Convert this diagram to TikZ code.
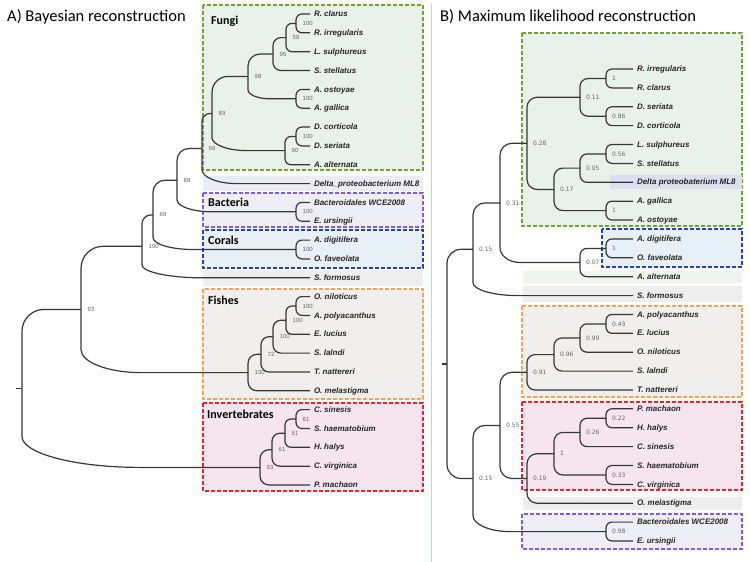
\documentclass[tikz,border=0pt]{standalone}
\usepackage{fontspec}
\setmainfont{Liberation Sans}
\newfontfamily\titlefont{Carlito}
\newfontfamily\suppfont{DejaVu Sans}
\usetikzlibrary{positioning}

\definecolor{fungiline}{RGB}{110,165,55}
\definecolor{fungifill}{RGB}{233,241,235}
\definecolor{bactline}{RGB}{125,90,250}
\definecolor{bactfill}{RGB}{238,238,248}
\definecolor{coralline}{RGB}{35,65,195}
\definecolor{coralfill}{RGB}{231,239,247}
\definecolor{fishline}{RGB}{247,163,90}
\definecolor{fishfill}{RGB}{240,239,237}
\definecolor{invline}{RGB}{238,35,45}
\definecolor{invfill}{RGB}{246,229,239}
\definecolor{grayband}{RGB}{238,238,238}
\definecolor{lavband}{RGB}{236,236,246}
\definecolor{lavbanddark}{RGB}{221,223,238}
\definecolor{greenband}{RGB}{237,245,237}
\definecolor{divider}{RGB}{190,208,225}
\definecolor{treeline}{RGB}{55,55,55}

\begin{document}
\begin{tikzpicture}[x=1pt, y=-1pt,
    leaf/.style={anchor=west, inner sep=2pt, outer sep=2pt, text height=5.8pt, text depth=0.5pt, font=\fontsize{8}{9}\selectfont\bfseries\itshape, text=black!85},
    supp/.style={anchor=west, inner sep=0pt, xshift=6.5pt, font=\fontsize{6}{7}\selectfont, text=black!60},
    suppb/.style={supp, xshift=-0.5pt, font=\suppfont\fontsize{6}{7}\selectfont},
    branch/.style={draw=treeline, line width=1.2pt, rounded corners=#1},
    branch/.default=6pt,
    lower/.style 2 args={sharp corners, to path={-- ([yshift=#1]\tikztostart |- \tikztotarget) .. controls ([yshift=0.45*#1]\tikztostart |- \tikztotarget) and ([xshift=0.45*#2]\tikztostart |- \tikztotarget) .. ([xshift=#2]\tikztostart |- \tikztotarget) -- (\tikztotarget)}},
    grp/.style={line width=1.2pt, dash pattern=on 4pt off 2pt},
    grplabel/.style={anchor=west, inner sep=0pt, font=\titlefont\fontsize{12}{14}\selectfont\bfseries},
    paneltitle/.style={anchor=west, inner sep=0pt, font=\titlefont\fontsize{16.5}{18}\selectfont}
]
\useasboundingbox (0,0) rectangle (750,562);

% panel titles and divider
\node[paneltitle] (titleA) at (7,17) {A) Bayesian reconstruction};
\node[paneltitle] (titleB) at (440,17) {B) Maximum likelihood reconstruction};
\draw[divider, line width=0.8pt] (431,3) -- (431,562);

% ---------- A) group boxes ----------
\draw[grp, draw=fungiline, fill=fungifill] (203,5) rectangle (423,170);
\fill[lavband] (203,176) rectangle (423,191);
\draw[grp, draw=bactline, fill=bactfill] (203,193) rectangle (423,227);
\draw[grp, draw=coralline, fill=coralfill] (203,230) rectangle (423,268);
\fill[grayband] (203,270) rectangle (423,286);
\draw[grp, draw=fishline, fill=fishfill] (203,289) rectangle (423,399);
\draw[grp, draw=invline, fill=invfill] (203,403) rectangle (423,491);

\node[grplabel] (gA-fungi) at (211,21) {Fungi};
\node[grplabel] (gA-bact) at (208,202) {Bacteria};
\node[grplabel] (gA-coral) at (208,240) {Corals};
\node[grplabel] (gA-fish) at (208,300) {Fishes};
\node[grplabel] (gA-inv) at (207,414) {Invertebrates};

% ---------- A) leaves ----------
\node[leaf] (a-rcla) at (310,14) {R. clarus};
\node[leaf] (a-rirr) at (310,32.8) {R. irregularis};
\node[leaf] (a-lsul) at (310,51.7) {L. sulphureus};
\node[leaf] (a-sste) at (310,70.5) {S. stellatus};
\node[leaf] (a-aost) at (310,89.4) {A. ostoyae};
\node[leaf] (a-agal) at (310,108.2) {A. gallica};
\node[leaf] (a-dcor) at (310,127) {D. corticola};
\node[leaf] (a-dser) at (310,145.9) {D. seriata};
\node[leaf] (a-aalt) at (310,164.7) {A. alternata};
\node[leaf] (a-delta) at (310,183.6) {Delta\_proteobacterium ML8};
\node[leaf] (a-bact) at (310,202.4) {Bacteroidales WCE2008};
\node[leaf] (a-eurs) at (310,221.2) {E. ursingii};
\node[leaf] (a-adig) at (310,240.1) {A. digitifera};
\node[leaf] (a-ofav) at (310,258.9) {O. faveolata};
\node[leaf] (a-sfor) at (310,277.8) {S. formosus};
\node[leaf] (a-onil) at (310,296.6) {O. niloticus};
\node[leaf] (a-apol) at (310,315.4) {A. polyacanthus};
\node[leaf] (a-eluc) at (310,334.3) {E. lucius};
\node[leaf] (a-slal) at (310,353.1) {S. lalndi};
\node[leaf] (a-tnat) at (310,372) {T. nattereri};
\node[leaf] (a-omel) at (310,390.8) {O. melastigma};
\node[leaf] (a-csin) at (310,409.6) {C. sinesis};
\node[leaf] (a-shae) at (310,428.5) {S. haematobium};
\node[leaf] (a-hhal) at (310,447.3) {H. halys};
\node[leaf] (a-cvir) at (310,466.2) {C. virginica};
\node[leaf] (a-pmac) at (310,485) {P. machaon};

% ---------- A) internal nodes ----------
\coordinate (L1) at (296,23.4);
\coordinate (L2) at (286,37.6);
\coordinate (L3) at (273,54);
\coordinate (L4) at (296,98.8);
\coordinate (L5) at (248,76.4);
\coordinate (L6) at (296,136.5);
\coordinate (L7) at (285,150.6);
\coordinate (L8) at (212,113.5);
\coordinate (L9) at (202,148.5);
\coordinate (L10) at (296,211.8);
\coordinate (L11) at (177,180.2);
\coordinate (L12) at (296,249.5);
\coordinate (L13) at (153,214.9);
\coordinate (L14) at (142,246.3);
\coordinate (L15) at (296,306);
\coordinate (L16) at (286,320.2);
\coordinate (L17) at (273,336.7);
\coordinate (L18) at (261,354.3);
\coordinate (L19) at (248,372.6);
\coordinate (L20) at (81,309.4);
\coordinate (L21) at (296,419);
\coordinate (L22) at (285,433.2);
\coordinate (L23) at (272,449.7);
\coordinate (L24) at (260,467.4);
\coordinate (L0) at (22,388.4);
\coordinate (a-base) at (16,388.4);

% ---------- A) branches ----------
\draw[branch] (L1) |- (a-rcla.west) (L1) |- (a-rirr.west);
\draw[branch] (L2) |- (L1) (L2) |- (a-lsul.west);
\draw[branch=8pt] (L3) |- (L2) (L3) |- (a-sste.west);
\draw[branch] (L4) |- (a-aost.west) (L4) |- (a-agal.west);
\draw[branch=12pt] (L5) |- (L3);
\draw[branch] (L5) to[lower={9}{22}] (L4);
\draw[branch] (L6) |- (a-dcor.west) (L6) |- (a-dser.west);
\draw[branch] (L7) |- (L6) (L7) |- (a-aalt.west);
\draw[branch=16pt] (L8) |- (L5);
\draw[branch] (L8) to[lower={13}{35}] (L7);
\draw[branch=8pt] (L9) |- (L8);
\draw[branch] (L9) to[lower={14}{35}] (a-delta.west);
\draw[branch] (L10) |- (a-bact.west) (L10) |- (a-eurs.west);
\draw[branch=12pt] (L11) |- (L9);
\draw[branch] (L11) to[lower={12}{35}] (L10);
\draw[branch] (L12) |- (a-adig.west) (L12) |- (a-ofav.west);
\draw[branch=12pt] (L13) |- (L11);
\draw[branch] (L13) to[lower={12}{40}] (L12);
\draw[branch=9pt] (L14) |- (L13);
\draw[branch] (L14) to[lower={13}{60}] (a-sfor.west);
\draw[branch] (L15) |- (a-onil.west) (L15) |- (a-apol.west);
\draw[branch] (L16) |- (L15) (L16) |- (a-eluc.west);
\draw[branch=8pt] (L17) |- (L16) (L17) |- (a-slal.west);
\draw[branch=8pt] (L18) |- (L17) (L18) |- (a-tnat.west);
\draw[branch=9pt] (L19) |- (L18) (L19) |- (a-omel.west);
\draw[branch=22pt] (L20) |- (L14);
\draw[branch] (L20) to[lower={23}{60}] (L19);
\draw[branch] (L21) |- (a-csin.west) (L21) |- (a-shae.west);
\draw[branch] (L22) |- (L21) (L22) |- (a-hhal.west);
\draw[branch=8pt] (L23) |- (L22) (L23) |- (a-cvir.west);
\draw[branch=9pt] (L24) |- (L23) (L24) |- (a-pmac.west);
\draw[branch=22pt] (L0) |- (L20);
\draw[branch] (L0) to[lower={31}{118}] (L24);
\draw[branch] (a-base) -- (L0);

% ---------- A) posterior support ----------
\node[supp] (sL1) at (L1) {100};
\node[supp] (sL2) at (L2) {58};
\node[supp] (sL3) at (L3) {95};
\node[supp] (sL4) at (L4) {100};
\node[supp] (sL5) at (L5) {98};
\node[supp] (sL6) at (L6) {100};
\node[supp] (sL7) at (L7) {90};
\node[supp] (sL8) at (L8) {89};
\node[supp] (sL9) at (L9) {58};
\node[supp] (sL10) at (L10) {100};
\node[supp] (sL11) at (L11) {88};
\node[supp] (sL12) at (L12) {100};
\node[supp] (sL13) at (L13) {68};
\node[supp] (sL14) at (L14) {100};
\node[supp] (sL15) at (L15) {100};
\node[supp] (sL16) at (L16) {100};
\node[supp] (sL17) at (L17) {100};
\node[supp] (sL18) at (L18) {72};
\node[supp] (sL19) at (L19) {100};
\node[supp] (sL20) at (L20) {93};
\node[supp] (sL21) at (L21) {61};
\node[supp] (sL22) at (L22) {51};
\node[supp] (sL23) at (L23) {61};
\node[supp] (sL24) at (L24) {93};

% ---------- B) group boxes ----------
\draw[grp, draw=fungiline, fill=fungifill] (522,33) rectangle (742,226);
\fill[lavbanddark] (610,175) rectangle (742,189);
\draw[grp, draw=coralline, fill=coralfill] (602,229) rectangle (742,267);
\fill[greenband] (523,271) rectangle (742,283);
\fill[grayband] (523,286) rectangle (742,302);
\draw[grp, draw=fishline, fill=fishfill] (522,306) rectangle (742,397);
\draw[grp, draw=invline, fill=invfill] (522,402) rectangle (742,490);
\fill[grayband] (523,497) rectangle (742,510);
\draw[grp, draw=bactline, fill=bactfill] (522,514) rectangle (742,549);

% ---------- B) leaves ----------
\node[leaf] (b-rirr) at (633,69) {R. irregularis};
\node[leaf] (b-rcla) at (633,87.9) {R. clarus};
\node[leaf] (b-dser) at (633,106.8) {D. seriata};
\node[leaf] (b-dcor) at (633,125.6) {D. corticola};
\node[leaf] (b-lsul) at (633,144.5) {L. sulphureus};
\node[leaf] (b-sste) at (633,163.4) {S. stellatus};
\node[leaf] (b-delta) at (633,182.3) {Delta proteobaterium ML8};
\node[leaf] (b-agal) at (633,201.2) {A. gallica};
\node[leaf] (b-aost) at (633,220) {A. ostoyae};
\node[leaf] (b-adig) at (633,238.9) {A. digitifera};
\node[leaf] (b-ofav) at (633,257.8) {O. faveolata};
\node[leaf] (b-aalt) at (633,276.7) {A. alternata};
\node[leaf] (b-sfor) at (633,295.6) {S. formosus};
\node[leaf] (b-apol) at (633,314.4) {A. polyacanthus};
\node[leaf] (b-eluc) at (633,333.3) {E. lucius};
\node[leaf] (b-onil) at (633,352.2) {O. niloticus};
\node[leaf] (b-slal) at (633,371.1) {S. lalndi};
\node[leaf] (b-tnat) at (633,390) {T. nattereri};
\node[leaf] (b-pmac) at (633,408.8) {P. machaon};
\node[leaf] (b-hhal) at (633,427.7) {H. halys};
\node[leaf] (b-csin) at (633,446.6) {C. sinesis};
\node[leaf] (b-shae) at (633,465.5) {S. haematobium};
\node[leaf] (b-cvir) at (633,484.4) {C. virginica};
\node[leaf] (b-omel) at (633,503.2) {O. melastigma};
\node[leaf] (b-bact) at (633,522.1) {Bacteroidales WCE2008};
\node[leaf] (b-eurs) at (633,541) {E. ursingii};

% ---------- B) internal nodes ----------
\coordinate (R1) at (606,78.5);
\coordinate (R2) at (606,116.2);
\coordinate (R3) at (580,97.3);
\coordinate (R4) at (606,154);
\coordinate (R5) at (580,168.1);
\coordinate (R6) at (606,210.6);
\coordinate (R7) at (554,189.4);
\coordinate (R8) at (527,143.3);
\coordinate (R9) at (606,248.4);
\coordinate (R10) at (580,262.5);
\coordinate (R11) at (500,202.9);
\coordinate (R12) at (473,249.3);
\coordinate (R13) at (606,323.9);
\coordinate (R14) at (580,338);
\coordinate (R15) at (554,354.6);
\coordinate (R16) at (527,372.3);
\coordinate (R17) at (606,418.3);
\coordinate (R18) at (580,432.4);
\coordinate (R19) at (606,475);
\coordinate (R20) at (554,453.7);
\coordinate (R21) at (527,478.5);
\coordinate (R22) at (500,425.4);
\coordinate (R23) at (606,531.6);
\coordinate (R24) at (473,478.5);
\coordinate (R0) at (447,363.9);
\coordinate (b-base) at (442,363.9);

% ---------- B) branches ----------
\draw[branch] (R1) |- (b-rirr.west) (R1) |- (b-rcla.west);
\draw[branch] (R2) |- (b-dser.west) (R2) |- (b-dcor.west);
\draw[branch=8pt] (R3) |- (R1) (R3) |- (R2);
\draw[branch] (R4) |- (b-lsul.west) (R4) |- (b-sste.west);
\draw[branch=7pt] (R5) |- (R4) (R5) |- (b-delta.west);
\draw[branch] (R6) |- (b-agal.west) (R6) |- (b-aost.west);
\draw[branch=9pt] (R7) |- (R5) (R7) |- (R6);
\draw[branch=10pt] (R8) |- (R3) (R8) |- (R7);
\draw[branch] (R9) |- (b-adig.west) (R9) |- (b-ofav.west);
\draw[branch=7pt] (R10) |- (R9) (R10) |- (b-aalt.west);
\draw[branch=12pt] (R11) |- (R8);
\draw[branch] (R11) to[lower={15}{20}] (R10);
\draw[branch=12pt] (R12) |- (R11);
\draw[branch] (R12) to[lower={13}{45}] (b-sfor.west);
\draw[branch] (R13) |- (b-apol.west) (R13) |- (b-eluc.west);
\draw[branch=7pt] (R14) |- (R13) (R14) |- (b-onil.west);
\draw[branch=8pt] (R15) |- (R14) (R15) |- (b-slal.west);
\draw[branch=8pt] (R16) |- (R15) (R16) |- (b-tnat.west);
\draw[branch] (R17) |- (b-pmac.west) (R17) |- (b-hhal.west);
\draw[branch=7pt] (R18) |- (R17) (R18) |- (b-csin.west);
\draw[branch] (R19) |- (b-shae.west) (R19) |- (b-cvir.west);
\draw[branch=9pt] (R20) |- (R18) (R20) |- (R19);
\draw[branch=10pt] (R21) |- (R20) (R21) |- (b-omel.west);
\draw[branch=12pt] (R22) |- (R16) (R22) |- (R21);
\draw[branch] (R23) |- (b-bact.west) (R23) |- (b-eurs.west);
\draw[branch=12pt] (R24) |- (R22);
\draw[branch] (R24) to[lower={16}{37}] (R23);
\draw[branch=14pt] (R0) |- (R12) (R0) |- (R24);
\draw[branch] (b-base) -- (R0);

% ---------- B) bootstrap support ----------
\node[suppb] (sR1) at (R1) {1};
\node[suppb] (sR2) at (R2) {0.86};
\node[suppb] (sR3) at (R3) {0.11};
\node[suppb] (sR4) at (R4) {0.56};
\node[suppb] (sR5) at (R5) {0.05};
\node[suppb] (sR6) at (R6) {1};
\node[suppb] (sR7) at (R7) {0.17};
\node[suppb] (sR8) at (R8) {0.28};
\node[suppb] (sR9) at (R9) {1};
\node[suppb] (sR10) at (R10) {0.07};
\node[suppb] (sR11) at (R11) {0.31};
\node[suppb] (sR12) at (R12) {0.15};
\node[suppb] (sR13) at (R13) {0.43};
\node[suppb] (sR14) at (R14) {0.99};
\node[suppb] (sR15) at (R15) {0.96};
\node[suppb] (sR16) at (R16) {0.91};
\node[suppb] (sR17) at (R17) {0.22};
\node[suppb] (sR18) at (R18) {0.26};
\node[suppb] (sR19) at (R19) {0.33};
\node[suppb] (sR20) at (R20) {1};
\node[suppb] (sR21) at (R21) {0.19};
\node[suppb] (sR22) at (R22) {0.55};
\node[suppb] (sR23) at (R23) {0.98};
\node[suppb] (sR24) at (R24) {0.15};
\end{tikzpicture}
\end{document}
